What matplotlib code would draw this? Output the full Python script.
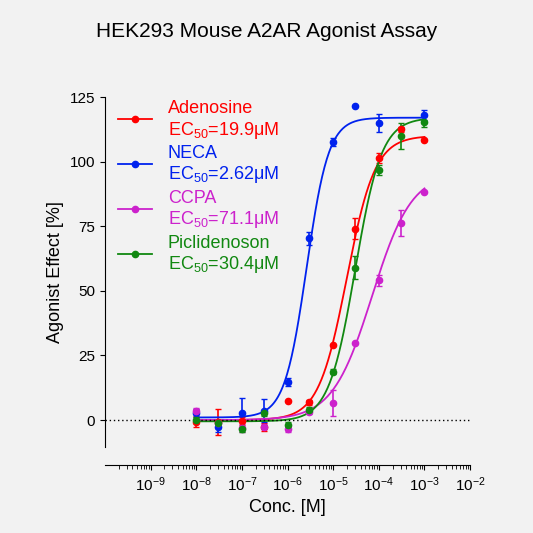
import numpy as np
import matplotlib
matplotlib.use("Agg")
import matplotlib.pyplot as plt
from matplotlib.ticker import LogLocator, NullFormatter

plt.rcParams["font.family"] = ["Liberation Sans", "DejaVu Sans"]
plt.rcParams["mathtext.fontset"] = "custom"
plt.rcParams["mathtext.rm"] = "Liberation Sans"

conc = [1e-8, 3e-8, 1e-7, 3e-7, 1e-6, 3e-6, 1e-5, 3e-5, 1e-4, 3e-4, 1e-3]

neca = [2.6, -2.6, 2.6, 3.6, 14.7, 70.3, 107.7, 121.5, 114.8, None, 118.0]
neca_err = [1.5, 2, 6, 4.5, 1.5, 2.5, 1.5, 0, 3.5, 0, 2]
adenosine = [-0.6, -0.6, -0.3, -2.8, 7.4, 6.8, 29.0, 74.0, 101.5, 112.5, 108.4]
adenosine_err = [2, 5, 1.5, 1.5, 0, 1, 0, 4, 2, 1, 0]
piclidenoson = [0.0, -1.0, -3.6, 2.6, -1.9, 3.9, 18.7, 59.0, 96.8, 110.0, 115.5]
piclidenoson_err = [1, 1, 1, 1, 1, 1, 1, 4.5, 2, 5, 2]
ccpa = [3.6, -1.3, -3.2, -2.6, -3.6, 3.2, 6.5, 29.7, 54.0, 76.4, 88.4]
ccpa_err = [1, 1, 1.5, 1, 1, 1, 5, 0, 2, 5, 0]

# 4PL fit parameters: bottom, top, EC50 (M), hill
fits = {
    "Adenosine": (0.0, 110.0, 19.9e-6, 1.4),
    "NECA": (1.0, 117.0, 2.62e-6, 1.8),
    "CCPA": (0.0, 96.0, 71.1e-6, 1.0),
    "Piclidenoson": (-0.5, 117.0, 30.4e-6, 1.5),
}
labels = ["Adenosine", "NECA", "CCPA", "Piclidenoson"]
ec50_text = ["19.9", "2.62", "71.1", "30.4"]
colors = ["#ff0000", "#0022ee", "#cc22cc", "#118811"]
series = [(adenosine, adenosine_err), (neca, neca_err), (ccpa, ccpa_err), (piclidenoson, piclidenoson_err)]

fig = plt.figure(figsize=(5.33, 5.33), dpi=100, facecolor="#f2f2f2")
ax = fig.add_axes([0.197, 0.161, 0.685, 0.657])
ax.set_facecolor("#f2f2f2")
fig.text(0.5, 0.93, "HEK293 Mouse A2AR Agonist Assay", ha="center", fontsize=15)

xs = np.logspace(-8, -3, 300)
for name, (y, err), c in zip(labels, series, colors):
    b, t, ec, h = fits[name]
    ax.plot(xs, b + (t - b) / (1 + (ec / xs) ** h), color=c, lw=1.3)
    px = [x for x, v in zip(conc, y) if v is not None]
    pv = [v for v in y if v is not None]
    pe = [e for e, v in zip(err, y) if v is not None]
    ax.errorbar(px, pv, yerr=pe, fmt="o", color=c, ms=4.5, capsize=2.5, elinewidth=1.2)

ax.axhline(0, color="black", ls=(0, (1, 2)), lw=1)
ax.set_xscale("log")
ax.set_xlim(1e-10, 1e-2)
ax.set_ylim(-10.5, 125)
ax.set_yticks([0, 25, 50, 75, 100, 125])
ax.set_xticks([1e-9, 1e-8, 1e-7, 1e-6, 1e-5, 1e-4, 1e-3, 1e-2])
ax.xaxis.set_minor_locator(LogLocator(base=10, subs=np.arange(2, 10), numticks=20))
ax.xaxis.set_minor_formatter(NullFormatter())
ax.spines["top"].set_visible(False)
ax.spines["right"].set_visible(False)
ax.spines["bottom"].set_position(("outward", 13))
ax.tick_params(labelsize=11)
ax.tick_params(which="minor", length=3)
ax.set_xlabel("Conc. [M]", fontsize=13)
ax.set_ylabel("Agonist Effect [%]", fontsize=13)

for i, (name, ectxt, c) in enumerate(zip(labels, ec50_text, colors)):
    y0 = 0.796 - i * 0.084
    fig.text(0.315, y0, name, color=c, fontsize=13, va="center")
    fig.text(0.315, y0 - 0.040, r"EC$_{50}$=" + ectxt + "μM", color=c, fontsize=13, va="center")
    ym = y0 - 0.020
    fig.add_artist(plt.Line2D([0.222, 0.285], [ym, ym], color=c, lw=1.3))
    fig.add_artist(plt.Line2D([0.253], [ym], marker="o", color=c, ms=4.5))

fig.savefig("out.png", dpi=100, facecolor=fig.get_facecolor())
